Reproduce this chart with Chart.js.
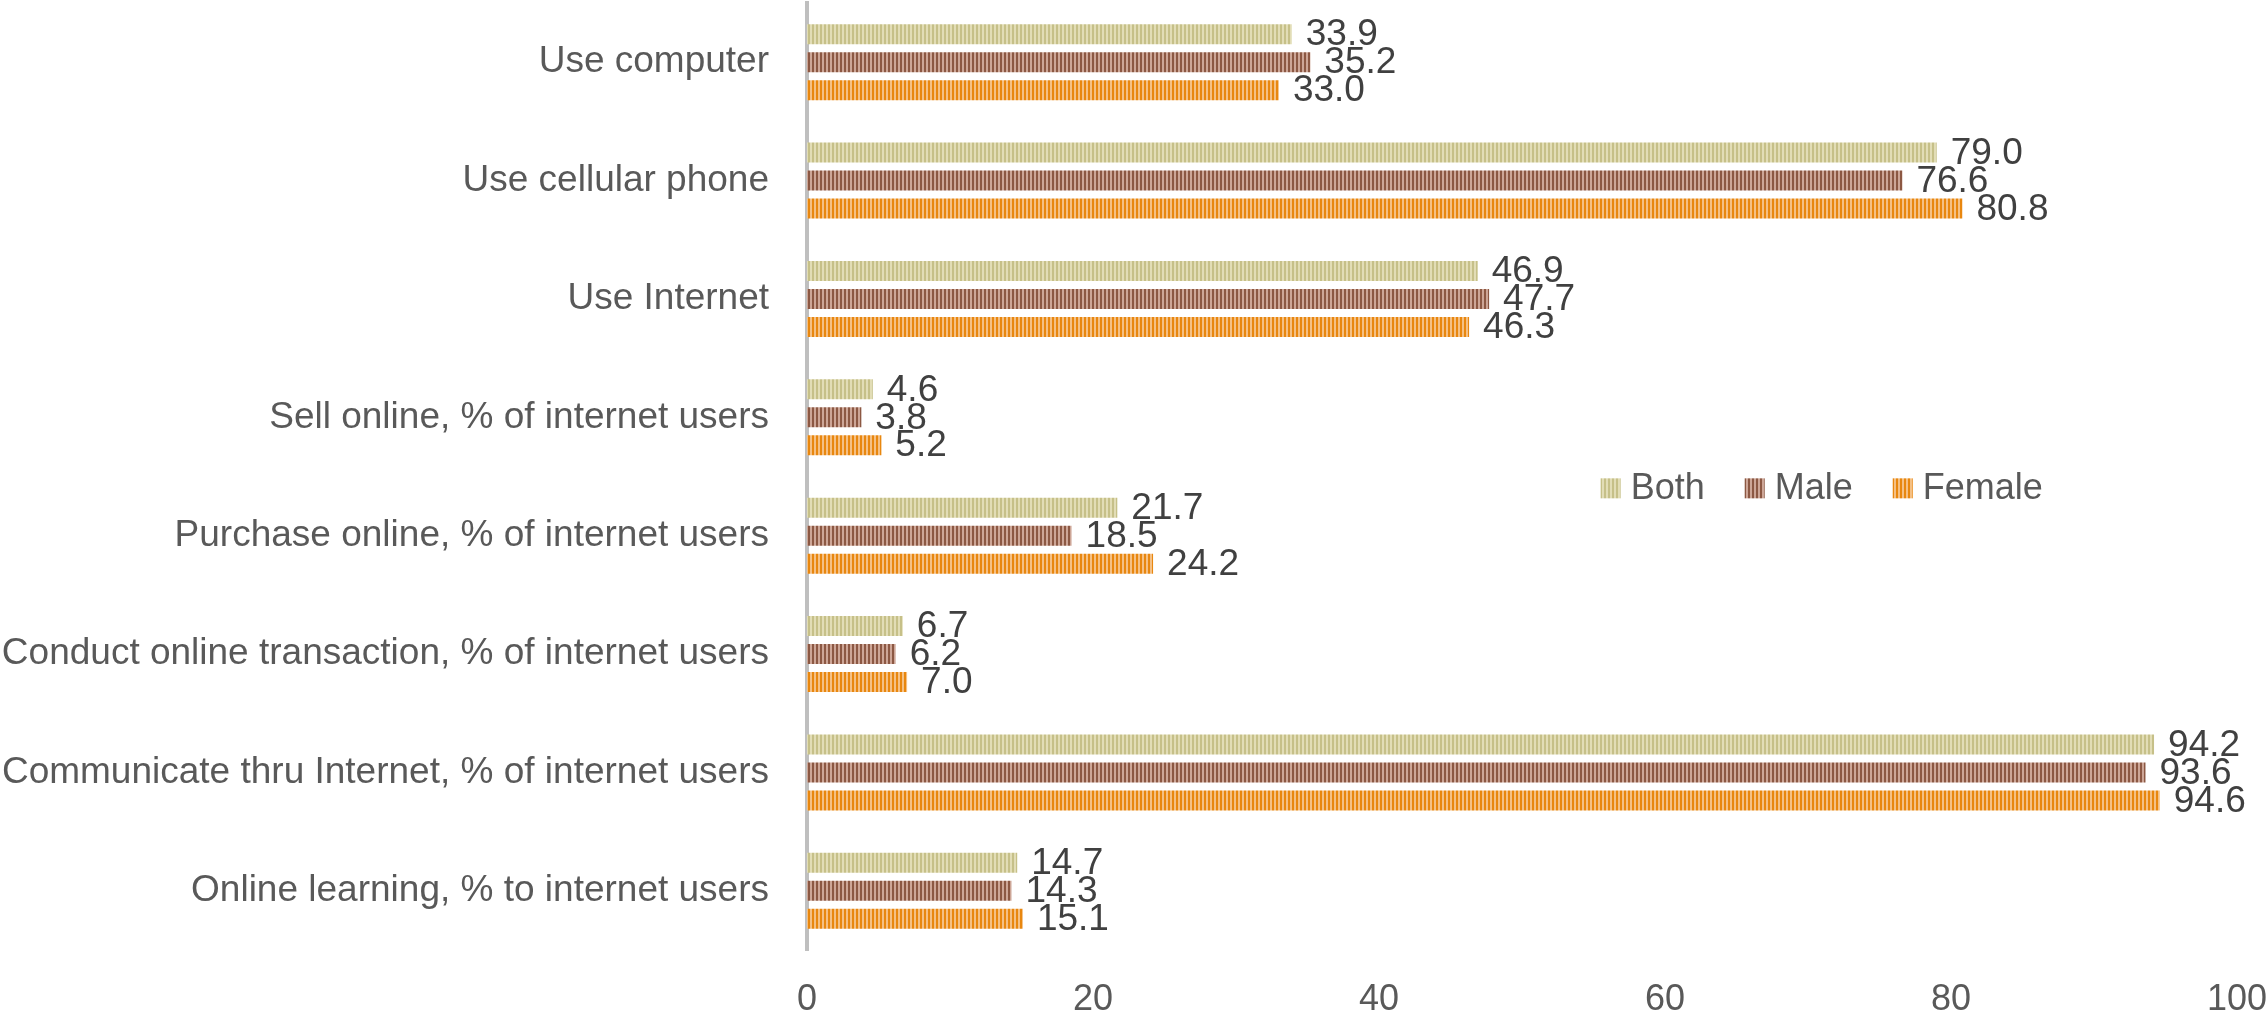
<!DOCTYPE html>
<html>
<head>
    <title>ICT use by sex</title>
    <style>
        body {
            margin: 0;
            background: #ffffff;
        }

        .chart-container {
            width: 2267px;
            height: 1014px;
        }
    </style>
    <script src="https://cdn.jsdelivr.net/npm/chart.js"></script>
</head>
<body>

    <div class="chart-container">
        <canvas id="ictChart" width="2267" height="1014"></canvas>
    </div>

    <script>
        const categories = [
            'Use computer',
            'Use cellular phone',
            'Use Internet',
            'Sell online, % of internet users',
            'Purchase online, % of internet users',
            'Conduct online transaction, % of internet users',
            'Communicate thru Internet, % of internet users',
            'Online learning, % to internet users'
        ];
        const bothValues = [33.9, 79.0, 46.9, 4.6, 21.7, 6.7, 94.2, 14.7];
        const maleValues = [35.2, 76.6, 47.7, 3.8, 18.5, 6.2, 93.6, 14.3];
        const femaleValues = [33.0, 80.8, 46.3, 5.2, 24.2, 7.0, 94.6, 15.1];
        const xTicks = [0, 20, 40, 60, 80, 100];

        const fontFamily = '"Liberation Sans", Arial, sans-serif';

        // vertical stripe fill like the Excel "dark vertical" pattern
        function stripes(dark, light) {
            const c = document.createElement('canvas');
            c.width = 4;
            c.height = 4;
            const g = c.getContext('2d');
            g.fillStyle = light;
            g.fillRect(0, 0, 4, 4);
            g.fillStyle = dark;
            g.fillRect(0, 0, 2, 4);
            return g.createPattern(c, 'repeat');
        }

        const canvas = document.getElementById('ictChart');
        const ctx = canvas.getContext('2d');

        const bothFill = stripes('#c6c088', '#e2ddb6');
        const maleFill = stripes('#8c5843', '#cda697');
        const femaleFill = stripes('#e8870f', '#f5c084');

        // value labels at the end of each bar
        const valueLabels = {
            id: 'valueLabels',
            afterDatasetsDraw(chart) {
                const c = chart.ctx;
                c.save();
                c.font = '37px ' + fontFamily;
                c.fillStyle = '#404040';
                c.textAlign = 'left';
                c.textBaseline = 'middle';
                chart.data.datasets.forEach((ds, i) => {
                    chart.getDatasetMeta(i).data.forEach((bar, j) => {
                        c.fillText(ds.data[j].toFixed(1), bar.x + 14, bar.y + 1);
                    });
                });
                c.restore();
            }
        };

        // legend sits inside the plot, between "Sell online" and "Purchase online"
        const innerLegend = {
            id: 'innerLegend',
            afterDraw(chart) {
                const c = chart.ctx;
                const xs = chart.scales.x;
                const ys = chart.scales.y;
                let x = xs.getPixelForValue(55.5);
                const y = ys.getPixelForValue(3.6);
                c.save();
                c.font = '36px ' + fontFamily;
                c.textAlign = 'left';
                c.textBaseline = 'middle';
                chart.data.datasets.forEach(ds => {
                    c.fillStyle = ds.backgroundColor;
                    c.fillRect(x, y - 10, 20, 20);
                    c.fillStyle = '#595959';
                    c.fillText(ds.label, x + 30, y + 1);
                    x += 30 + c.measureText(ds.label).width + 40;
                });
                c.restore();
            }
        };

        new Chart(ctx, {
            type: 'bar',
            data: {
                labels: categories,
                datasets: [
                    { label: 'Both', data: bothValues, backgroundColor: bothFill },
                    { label: 'Male', data: maleValues, backgroundColor: maleFill },
                    { label: 'Female', data: femaleValues, backgroundColor: femaleFill }
                ]
            },
            options: {
                indexAxis: 'y',
                responsive: false,
                animation: false,
                categoryPercentage: 0.709,
                barPercentage: 0.714,
                layout: {
                    padding: { top: 3 }
                },
                plugins: {
                    legend: { display: false },
                    tooltip: { enabled: false }
                },
                scales: {
                    x: {
                        min: 0,
                        max: 100,
                        afterBuildTicks(scale) {
                            scale.ticks = xTicks.map(v => ({ value: v }));
                        },
                        afterFit(scale) {
                            scale.height = 64;
                            scale.paddingLeft = 0;
                            scale.paddingRight = 30;
                        },
                        grid: { display: false, drawTicks: false },
                        border: { display: false },
                        ticks: {
                            color: '#595959',
                            padding: 28,
                            maxRotation: 0,
                            font: { family: fontFamily, size: 36 }
                        }
                    },
                    y: {
                        z: 1,
                        afterFit(scale) {
                            scale.width = 807;
                            scale.paddingTop = 0;
                            scale.paddingBottom = 0;
                        },
                        grid: { display: false, drawTicks: false },
                        border: { display: true, color: '#bfbfbf', width: 4 },
                        ticks: {
                            color: '#595959',
                            padding: 38,
                            font: { family: fontFamily, size: 37 }
                        }
                    }
                }
            },
            plugins: [valueLabels, innerLegend]
        });
    </script>

</body>
</html>
